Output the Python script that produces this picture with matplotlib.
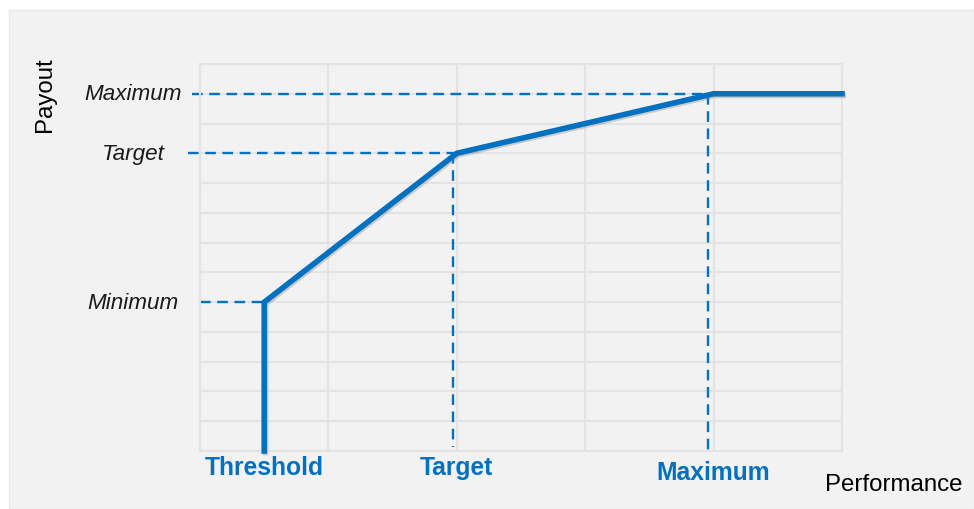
import matplotlib.pyplot as plt
import matplotlib.patheffects as pe
from matplotlib.patches import Rectangle

# 数据
perf = [0.5, 0.5, 2, 4, 5]
payout = [0, 5, 10, 12, 12]
level_names = ["Minimum", "Target", "Maximum"]
level_x = [0.5, 2, 4]
level_y = [5, 10, 12]
x_names = ["Threshold", "Target", "Maximum"]

blue = "#0070C0"
grid_c = "#e3e3e3"
bg = "#f2f2f2"

plt.rcParams['font.family'] = ['Liberation Sans', 'DejaVu Sans']

fig = plt.figure(figsize=(9.74, 5.10), dpi=100)
fig.patches.append(Rectangle((9 / 974, 0), 965 / 974, 499 / 510, transform=fig.transFigure,
                             facecolor=bg, edgecolor="#e8e8e8", lw=1, zorder=-10))
ax = fig.add_axes([200 / 974, 58 / 510, 642 / 974, 387 / 510])
ax.set_facecolor(bg)
ax.set_xlim(0, 5)
ax.set_ylim(0, 13)
ax.set_xticks(range(0, 6))
ax.set_yticks(range(0, 14))
ax.tick_params(length=0, labelbottom=False, labelleft=False)
ax.grid(True, color=grid_c, lw=1.5)
ax.set_axisbelow(True)
for s in ax.spines.values():
    s.set_color(grid_c)
    s.set_linewidth(1.5)

dash = (0, (4.5, 2.8))
lw_d = 1.7
# 水平虚线
ax.plot([0, level_x[0]], [level_y[0], level_y[0]], color=blue, lw=lw_d, ls=dash, clip_on=False)
ax.plot([-0.09, level_x[1]], [level_y[1], level_y[1]], color=blue, lw=lw_d, ls=dash, clip_on=False)
ax.plot([-0.06, level_x[2]], [level_y[2], level_y[2]], color=blue, lw=lw_d, ls=dash, clip_on=False)
# 竖直虚线
ax.plot([level_x[1] - 0.03, level_x[1] - 0.03], [level_y[1], 0.15], color=blue, lw=lw_d, ls=dash)
ax.plot([level_x[2] - 0.04, level_x[2] - 0.04], [level_y[2], 0], color=blue, lw=lw_d, ls=dash)

ax.plot(perf, payout, color=blue, lw=4, solid_joinstyle='miter', zorder=5, clip_on=False,
        path_effects=[pe.SimpleLineShadow(offset=(1, -1.2), shadow_color='gray', alpha=0.35),
                      pe.Normal()])

# 纵轴标签
for name, yv in zip(level_names, level_y):
    ax.text(-0.52, yv, name, fontsize=16.2, style='italic', ha='center', va='center',
            color='#1a1a1a')
# 横轴标签
x_label_y = [-0.54, -0.54, -0.72]
for name, xv, ty in zip(x_names, level_x, x_label_y):
    ax.text(xv, ty, name, fontsize=17.7, fontweight='bold', ha='center', va='center',
            color=blue)

ax.text(5.4, -1.1, "Performance", fontsize=17.3, ha='center', va='center', color='black')
ax.text(-1.21, 12.0, "Payout", fontsize=17.3, ha='center', va='center', rotation=90,
        color='black')

plt.savefig("out.png", dpi=100, facecolor='white')
